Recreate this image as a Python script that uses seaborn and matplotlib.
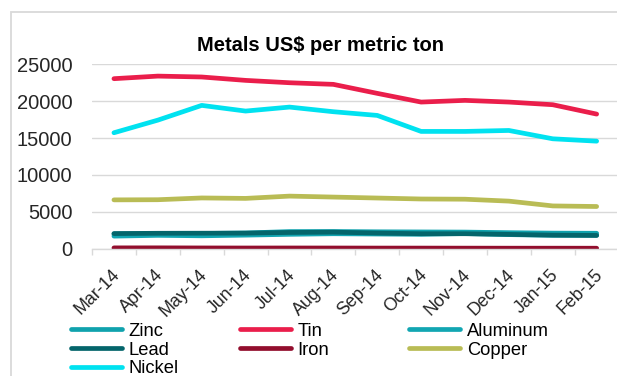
import matplotlib
matplotlib.use("Agg")
import matplotlib.pyplot as plt
import matplotlib.transforms as mtransforms
import seaborn as sns
import pandas as pd
import numpy as np
from matplotlib.patches import Rectangle
from matplotlib.lines import Line2D

months = ["Mar-14", "Apr-14", "May-14", "Jun-14", "Jul-14", "Aug-14",
          "Sep-14", "Oct-14", "Nov-14", "Dec-14", "Jan-15", "Feb-15"]
zinc = [2010, 2030, 2060, 2130, 2320, 2330, 2290, 2270, 2250, 2170, 2110, 2090]
tin = [23050, 23400, 23280, 22820, 22500, 22280, 21060, 19880, 20110, 19880, 19520, 18250]
aluminum = [1705, 1810, 1750, 1840, 1950, 2030, 1990, 1950, 2055, 1910, 1815, 1815]
lead = [2050, 2090, 2100, 2110, 2200, 2240, 2120, 2030, 2030, 1940, 1840, 1800]
iron = [111, 114, 101, 93, 96, 92, 83, 81, 74, 68, 68, 63]
copper = [6620, 6640, 6880, 6820, 7130, 7000, 6870, 6740, 6710, 6450, 5800, 5720]
nickel = [15720, 17430, 19430, 18660, 19200, 18570, 18070, 15900, 15900, 16030, 14900, 14580]

series_names = ["Zinc", "Tin", "Aluminum", "Lead", "Iron", "Copper", "Nickel"]
series_values = [zinc, tin, aluminum, lead, iron, copper, nickel]
colors = ["#10a2ad", "#ea1e4b", "#12a6b2", "#04656b", "#920e2d", "#b9bc55", "#00e2f0"]

rows = []
for name, vals in zip(series_names, series_values):
    for i, (m, v) in enumerate(zip(months, vals)):
        rows.append({"metal": name, "idx": i, "month": m, "value": v})
df = pd.DataFrame(rows)

sns.set_theme(style="white")
plt.rcParams["font.family"] = ["Liberation Sans", "DejaVu Sans"]

W, H = 617, 376
fig = plt.figure(figsize=(W / 100, H / 100), dpi=100)

# chart frame
fig.add_artist(Rectangle((11 / W, -0.2), 1.2, (1 - 12 / H) + 0.2, transform=fig.transFigure,
                         fill=False, edgecolor="#d9d9d9", linewidth=1.3))

ax = fig.add_axes([92 / W, 1 - 248.7 / H, (618.6 - 92) / W, (248.7 - 64.3) / H])
ax.set_facecolor("none")

sns.lineplot(data=df, x="idx", y="value", hue="metal", hue_order=series_names,
             palette=colors, linewidth=3.4, ax=ax, legend=False, sort=False,
             estimator=None)
for ln in ax.get_lines():
    ln.set_solid_capstyle("round")
    ln.set_solid_joinstyle("round")

ax.set_xlim(-0.5, len(months) - 0.5)
ax.set_ylim(0, 25000)
ax.set_yticks(np.arange(0, 25001, 5000))
ax.yaxis.grid(True, color="#d9d9d9", linewidth=1.0)
ax.set_axisbelow(True)
for s in ["left", "right", "top"]:
    ax.spines[s].set_visible(False)
ax.spines["bottom"].set_color("#d9d9d9")
ax.spines["bottom"].set_linewidth(1.0)

ax.set_xticks(range(len(months)))
ax.set_xticklabels(months, rotation=45, ha="right", va="center", rotation_mode="anchor",
                   fontsize=12.8)
ax.set_xticks(np.arange(-0.5, len(months), 1.0), minor=True)
ax.tick_params(axis="x", which="major", length=0, pad=17)
ax.tick_params(axis="x", which="minor", length=4, width=1.0, color="#d9d9d9", direction="out",
               bottom=True)
ax.tick_params(axis="y", length=0, pad=14, labelsize=14.5)
ax.set_xlabel("")
ax.set_ylabel("")
shift = mtransforms.ScaledTranslation(3 / 100, 0, fig.dpi_scale_trans)
for lbl in ax.get_xticklabels():
    lbl.set_transform(lbl.get_transform() + shift)

fig.text(320.5 / W, 1 - 51 / H, "Metals US$ per metric ton", ha="center", va="baseline",
         fontsize=14.5, fontweight="bold", color="black")

# legend, row-major order in three columns (drawn as a figure-level key)
col_x = [68.3, 237.3, 406.7]
row_y = [329.3, 348.3, 366.7]
for k, (name, col) in enumerate(zip(series_names, colors)):
    r, c = divmod(k, 3)
    x0 = col_x[c]
    y = 1 - row_y[r] / H
    fig.add_artist(Line2D([(x0 + 2.3) / W, (x0 + 53.7) / W], [y, y], transform=fig.transFigure,
                          color=col, linewidth=3.4, solid_capstyle="round"))
    fig.text((x0 + 60) / W, y, name, ha="left", va="center_baseline", fontsize=13.2,
             color="black")

fig.savefig("out.png", dpi=100)
